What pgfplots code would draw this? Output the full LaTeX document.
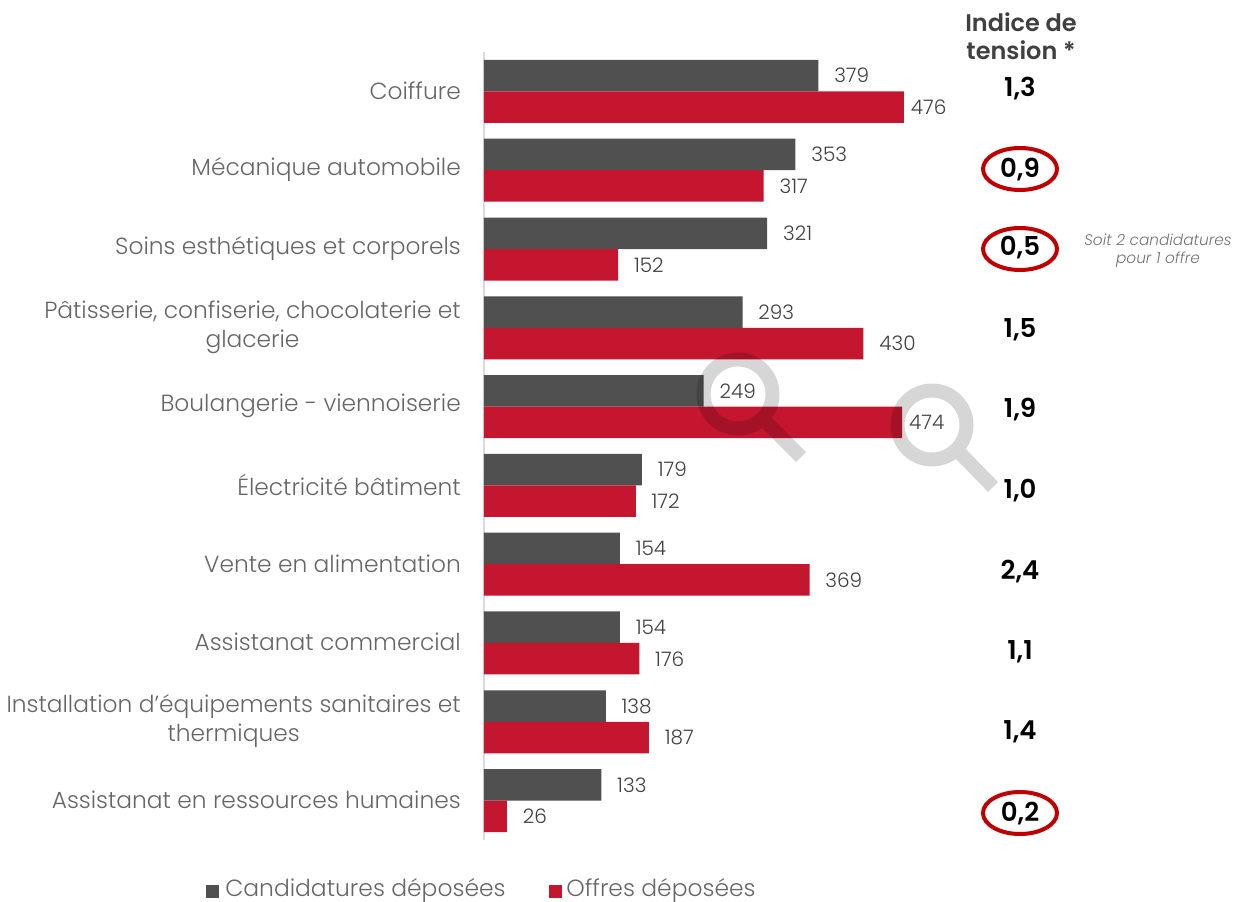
\documentclass[border=0pt]{standalone}
\usepackage{fontspec}
\setmainfont{Poppins}[UprightFont=* Light,ItalicFont=* Light Italic,BoldFont=* SemiBold]
\usepackage{pgfplots}
\usepackage{pgfplotstable}
\pgfplotsset{compat=1.18}
\definecolor{cand}{HTML}{505050}
\definecolor{offre}{HTML}{C4162F}
\definecolor{cercle}{HTML}{C00000}
\definecolor{etiq}{HTML}{666666}
\definecolor{valeur}{HTML}{404040}

\pgfplotstableread{
pos cand offre
0 379 476
1 353 317
2 321 152
3 293 430
4 249 474
5 179 172
6 154 369
7 154 176
8 138 187
9 133 26
}\donnees

\begin{document}
% 1 px of the reference = 0.6pt, y downwards
\begin{tikzpicture}[x=0.6pt,y=-0.6pt]
\useasboundingbox (0,0) rectangle (1234,902);
\begin{axis}[
    at={(290.4pt,-31.2pt)}, anchor=north west,
    scale only axis, width=450pt, height=472.8pt,
    xmin=0, xmax=850, ymin=-0.5, ymax=9.5,
    y dir=reverse, clip=false,
    xbar=0pt, bar width=18.9pt,
    axis x line=none, axis y line=left,
    y axis line style={-, draw=black!15, line width=1.2pt},
    ytick={0,...,9}, major tick length=0pt,
    yticklabels={Coiffure, Mécanique automobile, Soins esthétiques et corporels,
      {Pâtisserie, confiserie, chocolaterie et\\glacerie}, Boulangerie - viennoiserie,
      Électricité bâtiment, Vente en alimentation, Assistanat commercial,
      {Installation d'équipements sanitaires et\\thermiques}, Assistanat en ressources humaines},
    y tick label style={align=center, text=etiq, xshift=-10.4pt, yshift=0.5pt, font=\fontsize{14}{17.4}\selectfont},
    /pgf/number format/assume math mode=true,
    nodes near coords,
    nodes near coords style={text=valeur, font=\fontsize{12}{15}\selectfont, xshift=6pt},
    coordinate style/.condition={x>470}{xshift=-5.4pt},
]
\addplot[fill=cand, draw=none, bar shift=9.45pt] table[x=cand, y=pos] {\donnees};
\addplot[fill=offre, draw=none, bar shift=-9.45pt] table[x=offre, y=pos] {\donnees};
\end{axis}
% legende
\fill[cand] (206,885) rectangle (219,898);
\node[anchor=base west, inner sep=0pt, text=etiq, font=\fontsize{14.05}{17}\selectfont] at (225,896) {Candidatures déposées};
\fill[offre] (549,885) rectangle (562,898);
\node[anchor=base west, inner sep=0pt, text=etiq, font=\fontsize{14.05}{17}\selectfont] at (566,896) {Offres déposées};
% loupes
\draw[black, opacity=0.16, line width=8.4pt] (738,394) circle (34.5) (762.4,418.4) -- (801,457);
\draw[black, opacity=0.16, line width=8.4pt] (932,425) circle (34.5) (956.4,449.4) -- (993,487);
% indice de tension
\node[font=\bfseries\fontsize{14.4}{16.8}\selectfont, text=valeur, align=center] at (1021,36) {Indice de\\tension *};
\foreach \yy/\val in {89/{1,3},170/{0,9},248/{0,5},330/{1,5},410/{1,9},491/{1,0},572/{2,4},652/{1,1},732/{1,4},814/{0,2}}
  \node[font=\bfseries\fontsize{15.6}{18}\selectfont, text=black] at (1020,\yy) {\val};
\foreach \yy in {169,249,813}
  \draw[cercle, line width=2.4pt] (1020,\yy) ellipse (37 and 21);
\node[font=\itshape\fontsize{9.2}{10.8}\selectfont, text=black!55, align=center] at (1158,251) {Soit 2 candidatures\\pour 1 offre};
\end{tikzpicture}
\end{document}
